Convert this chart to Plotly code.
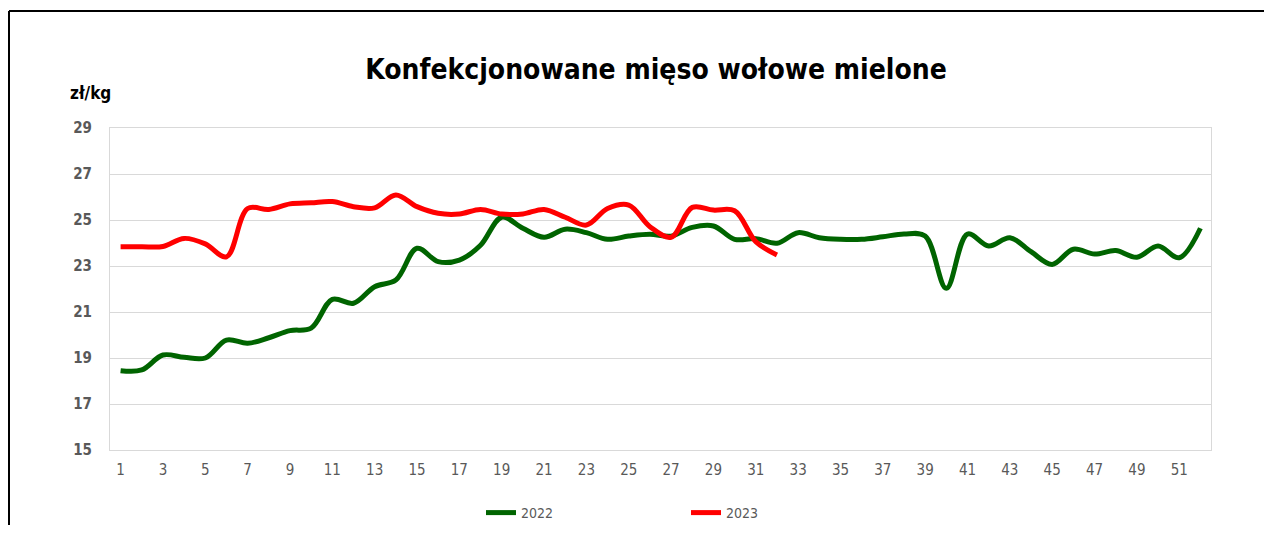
import plotly.graph_objects as go

weeks = list(range(1, 53))
tick_weeks = list(range(1, 52, 2))

price_2022 = [18.45, 18.48, 19.13, 19.03, 19.0, 19.78, 19.64, 19.88, 20.19, 20.3,
              21.55, 21.38, 22.1, 22.39, 23.77, 23.19, 23.26, 23.9, 25.12, 24.64,
              24.25, 24.6, 24.45, 24.16, 24.3, 24.38, 24.3, 24.68, 24.74, 24.16,
              24.19, 23.99, 24.45, 24.23, 24.16, 24.16, 24.27, 24.39, 24.3, 22.03,
              24.39, 23.87, 24.23, 23.62, 23.07, 23.73, 23.52, 23.67, 23.38, 23.87,
              23.36, 24.64]

price_2023 = [23.84, 23.84, 23.85, 24.2, 23.96, 23.4, 25.5, 25.46, 25.7, 25.75,
              25.8, 25.58, 25.53, 26.09, 25.58, 25.29, 25.26, 25.46, 25.26, 25.26,
              25.46, 25.12, 24.78, 25.5, 25.65, 24.71, 24.25, 25.55, 25.43, 25.4,
              24.06, 23.48]

FONT = "Liberation Sans Narrow, DejaVu Sans Condensed, Arial, sans-serif"
GRAY = "#595959"

fig = go.Figure()
fig.add_trace(go.Scatter(x=weeks, y=price_2022, name="2022", mode="lines",
                         line=dict(color="#006400", width=5, shape="spline", smoothing=1)))
fig.add_trace(go.Scatter(x=weeks[:len(price_2023)], y=price_2023, name="2023", mode="lines",
                         line=dict(color="#FF0000", width=5, shape="spline", smoothing=1)))

# page body has an 8px margin; work in page pixels and shift by it
O = 8
W, H = 1272 - 2 * O, 533 - 2 * O
L, R, T, B = 110 - O, 1211 - O, 128 - O, 450 - O


def px(x):
    return (x - O - L) / (R - L)


def py(y):
    return (B - (y - O)) / (B - T)


fig.update_layout(
    width=W, height=H,
    margin=dict(l=L, r=W - R, t=T, b=H - B, autoexpand=False),
    paper_bgcolor="white", plot_bgcolor="white",
    font=dict(family=FONT, color=GRAY, size=15),
    title=dict(text="<b>Konfekcjonowane mięso wołowe mielone</b>",
               xref="paper", x=px(656), xanchor="center",
               y=1 - (69 - O) / H, yanchor="middle",
               font=dict(family=FONT, size=28, color="black")),
    showlegend=True,
    legend=dict(orientation="h", x=px(481), xanchor="left", y=py(513), yanchor="middle",
                entrywidthmode="pixels", entrywidth=160,
                font=dict(family=FONT, size=14, color=GRAY), bgcolor="rgba(0,0,0,0)"),
    xaxis=dict(range=[0.5, 52.5], tickmode="array", tickvals=tick_weeks,
               ticktext=[str(w) for w in tick_weeks], showgrid=False, zeroline=False,
               showline=True, mirror=True, linecolor="#d9d9d9", linewidth=1,
               ticks="", tickfont=dict(family=FONT, size=15, color=GRAY),
               ticklabelstandoff=6),
    yaxis=dict(range=[15, 29], tickmode="linear", tick0=15, dtick=2,
               showgrid=True, gridcolor="#d9d9d9", gridwidth=1, zeroline=False,
               showline=True, mirror=True, linecolor="#d9d9d9", linewidth=1,
               ticks="", tickfont=dict(family=FONT, size=15, color=GRAY, weight="bold"),
               ticklabelstandoff=14),
)

fig.add_annotation(text="<b>zł/kg</b>", xref="paper", yref="paper",
                   x=px(68), y=py(93), xanchor="left", yanchor="middle",
                   showarrow=False, font=dict(family=FONT, size=17, color="black"))

# outer frame (top and left edges)
fig.add_shape(type="line", xref="paper", yref="paper",
              x0=px(9), y0=py(11), x1=px(1272), y1=py(11),
              line=dict(color="black", width=2))
fig.add_shape(type="line", xref="paper", yref="paper",
              x0=px(9), y0=py(11), x1=px(9), y1=py(533),
              line=dict(color="black", width=2))

fig.write_html("out.html")
